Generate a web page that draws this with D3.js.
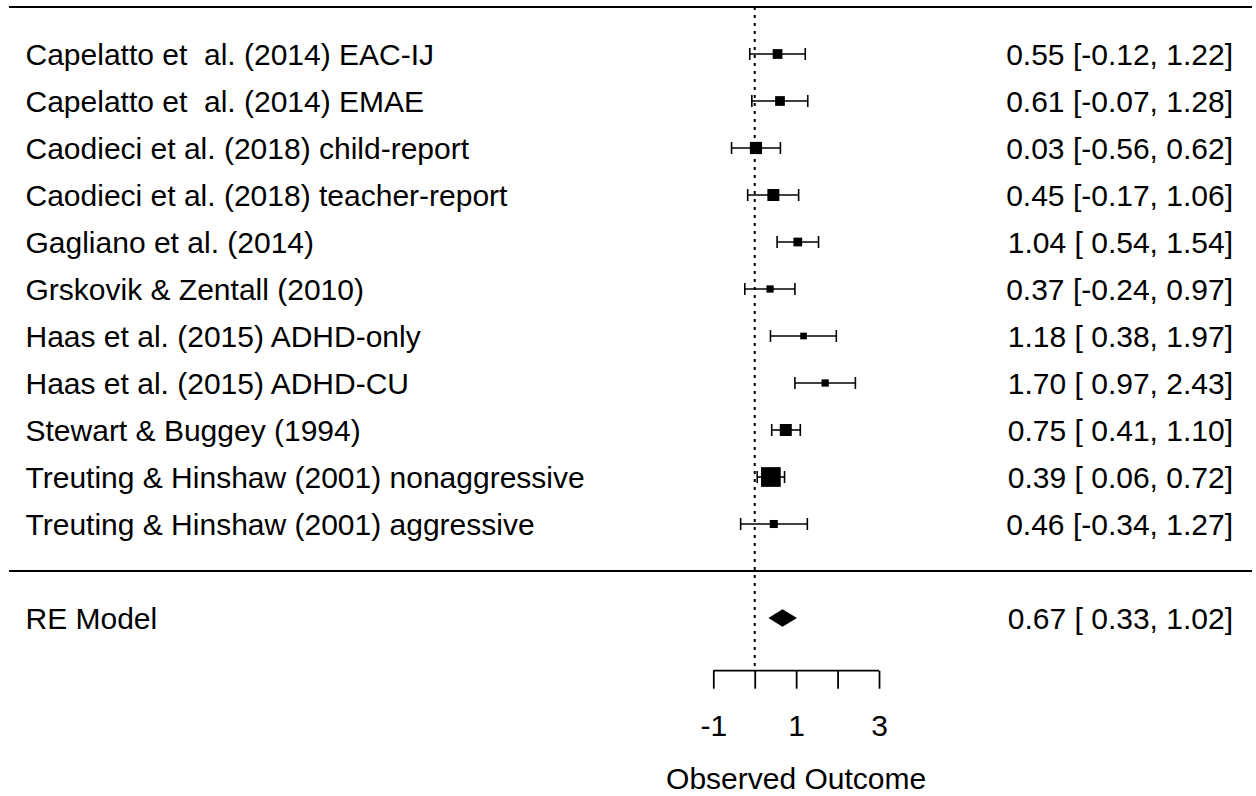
<!DOCTYPE html>
<html>
<head>
<meta charset="utf-8">
<script src="https://cdn.jsdelivr.net/npm/d3@7"></script>
<style>
  body { margin: 0; background: #fff; }
  svg text { font-family: "Liberation Sans", Arial, sans-serif; fill: #000; white-space: pre; }
</style>
</head>
<body>
<svg id="chart" width="1256" height="796"></svg>
<script>
// study labels, top to bottom
const studies = [
    "Capelatto et  al. (2014) EAC-IJ",
    "Capelatto et  al. (2014) EMAE",
    "Caodieci et al. (2018) child-report",
    "Caodieci et al. (2018) teacher-report",
    "Gagliano et al. (2014)",
    "Grskovik & Zentall (2010)",
    "Haas et al. (2015) ADHD-only",
    "Haas et al. (2015) ADHD-CU",
    "Stewart & Buggey (1994)",
    "Treuting & Hinshaw (2001) nonaggressive",
    "Treuting & Hinshaw (2001) aggressive"
];
const estimates = [0.55, 0.61, 0.03, 0.45, 1.04, 0.37, 1.18, 1.70, 0.75, 0.39, 0.46];
const lower     = [-0.12, -0.07, -0.56, -0.17, 0.54, -0.24, 0.38, 0.97, 0.41, 0.06, -0.34];
const upper     = [1.22, 1.28, 0.62, 1.06, 1.54, 0.97, 1.97, 2.43, 1.10, 0.72, 1.27];
const weights   = [8.6, 8.6, 10.8, 10.6, 7.7, 6.4, 5.9, 6.4, 10.6, 17.4, 7.1];

const pooledLabel = "RE Model";
const pooledValues = [0.67, 0.33, 1.02]; // estimate, lower, upper

const tickValues = [-1, 0, 1, 2, 3];
const tickLabels = ["-1", "", "1", "", "3"];
const xTitle = "Observed Outcome";

const svg = d3.select('#chart');
const fontSize = 30;
const k = studies.length;

// rows: k..1 for studies, 0 = separator, -1 = pooled, k+1 = top line
const x = d3.scaleLinear().domain([-1, 3]).range([713.3, 879]);
const y = d3.scaleLinear().domain([k + 1, -1]).range([7, 618]);
const size = d3.scaleLinear().domain([0, d3.max(weights)]).range([0, 19.7]);

const rows = studies.map(function (s, i) {
    return { label: s, est: estimates[i], lb: lower[i], ub: upper[i], w: weights[i], row: k - i };
});

const xLeft = 9, xRight = 1252;
const axisY = 670.7;

// horizontal lines
svg.append('line')
    .attr('x1', xLeft).attr('x2', xRight)
    .attr('y1', y(k + 1)).attr('y2', y(k + 1))
    .attr('stroke', '#000').attr('stroke-width', 2);
svg.append('line')
    .attr('x1', xLeft).attr('x2', xRight)
    .attr('y1', y(0)).attr('y2', y(0))
    .attr('stroke', '#000').attr('stroke-width', 2);

// reference line at 0
svg.append('line')
    .attr('x1', x(0)).attr('x2', x(0))
    .attr('y1', y(k + 1)).attr('y2', axisY)
    .attr('stroke', '#000').attr('stroke-width', 2)
    .attr('stroke-dasharray', '3,5');

// error bars
const g = svg.append('g');
const bar = g.selectAll('g.study')
    .data(rows)
    .enter().append('g')
    .attr('class', 'study');

bar.append('line')
    .attr('x1', function (d) { return x(d.lb); })
    .attr('x2', function (d) { return x(d.ub); })
    .attr('y1', function (d) { return y(d.row); })
    .attr('y2', function (d) { return y(d.row); })
    .attr('stroke', '#000').attr('stroke-width', 1.6);

const capH = 6;
bar.append('line')
    .attr('x1', function (d) { return x(d.lb); })
    .attr('x2', function (d) { return x(d.lb); })
    .attr('y1', function (d) { return y(d.row) - capH; })
    .attr('y2', function (d) { return y(d.row) + capH; })
    .attr('stroke', '#000').attr('stroke-width', 1.6);
bar.append('line')
    .attr('x1', function (d) { return x(d.ub); })
    .attr('x2', function (d) { return x(d.ub); })
    .attr('y1', function (d) { return y(d.row) - capH; })
    .attr('y2', function (d) { return y(d.row) + capH; })
    .attr('stroke', '#000').attr('stroke-width', 1.6);

bar.append('rect')
    .attr('x', function (d) { return x(d.est) - size(d.w) / 2; })
    .attr('y', function (d) { return y(d.row) - size(d.w) / 2; })
    .attr('width', function (d) { return size(d.w); })
    .attr('height', function (d) { return size(d.w); })
    .attr('fill', '#000');

// pooled diamond
const dH = 8.7;
const py = y(-1);
svg.append('polygon')
    .attr('points', [
        [x(pooledValues[1]), py],
        [x(pooledValues[0]), py - dH],
        [x(pooledValues[2]), py],
        [x(pooledValues[0]), py + dH]
    ].map(function (p) { return p.join(','); }).join(' '))
    .attr('fill', '#000');

// text
const fmtNum = d3.format('.2f');
function pad(v) {
    return v < 0 ? '-' + fmtNum(-v) : ' ' + fmtNum(v);
}
function ciText(e, l, u) {
    return fmtNum(e) + ' [' + pad(l) + ', ' + fmtNum(u) + ']';
}

const textDy = 10.5;
g.selectAll('text.left')
    .data(rows)
    .enter().append('text')
    .attr('class', 'left')
    .attr('x', 25.5)
    .attr('y', function (d) { return y(d.row) + textDy; })
    .attr('font-size', fontSize)
    .text(function (d) { return d.label; });

g.selectAll('text.right')
    .data(rows)
    .enter().append('text')
    .attr('class', 'right')
    .attr('x', 1233)
    .attr('y', function (d) { return y(d.row) + textDy; })
    .attr('text-anchor', 'end')
    .attr('font-size', fontSize)
    .text(function (d) { return ciText(d.est, d.lb, d.ub); });

svg.append('text')
    .attr('x', 25.5)
    .attr('y', py + textDy)
    .attr('font-size', fontSize)
    .text(pooledLabel);
svg.append('text')
    .attr('x', 1233)
    .attr('y', py + textDy)
    .attr('text-anchor', 'end')
    .attr('font-size', fontSize)
    .text(ciText(pooledValues[0], pooledValues[1], pooledValues[2]));

// x axis
const axis = svg.append('g')
    .attr('transform', 'translate(0,' + axisY + ')')
    .call(d3.axisBottom(x)
        .tickValues(tickValues)
        .tickSize(18)
        .tickSizeOuter(0)
        .tickPadding(26)
        .tickFormat(function (d, i) { return tickLabels[i]; }));
axis.attr('font-size', fontSize).attr('font-family', null);
axis.selectAll('path, line').attr('stroke-width', 1.8);
axis.select('.domain').attr('d', 'M' + x(-1) + ',0H' + x(3));

svg.append('text')
    .attr('x', (x(-1) + x(3)) / 2)
    .attr('y', 789)
    .attr('text-anchor', 'middle')
    .attr('font-size', fontSize)
    .text(xTitle);
</script>
</body>
</html>
